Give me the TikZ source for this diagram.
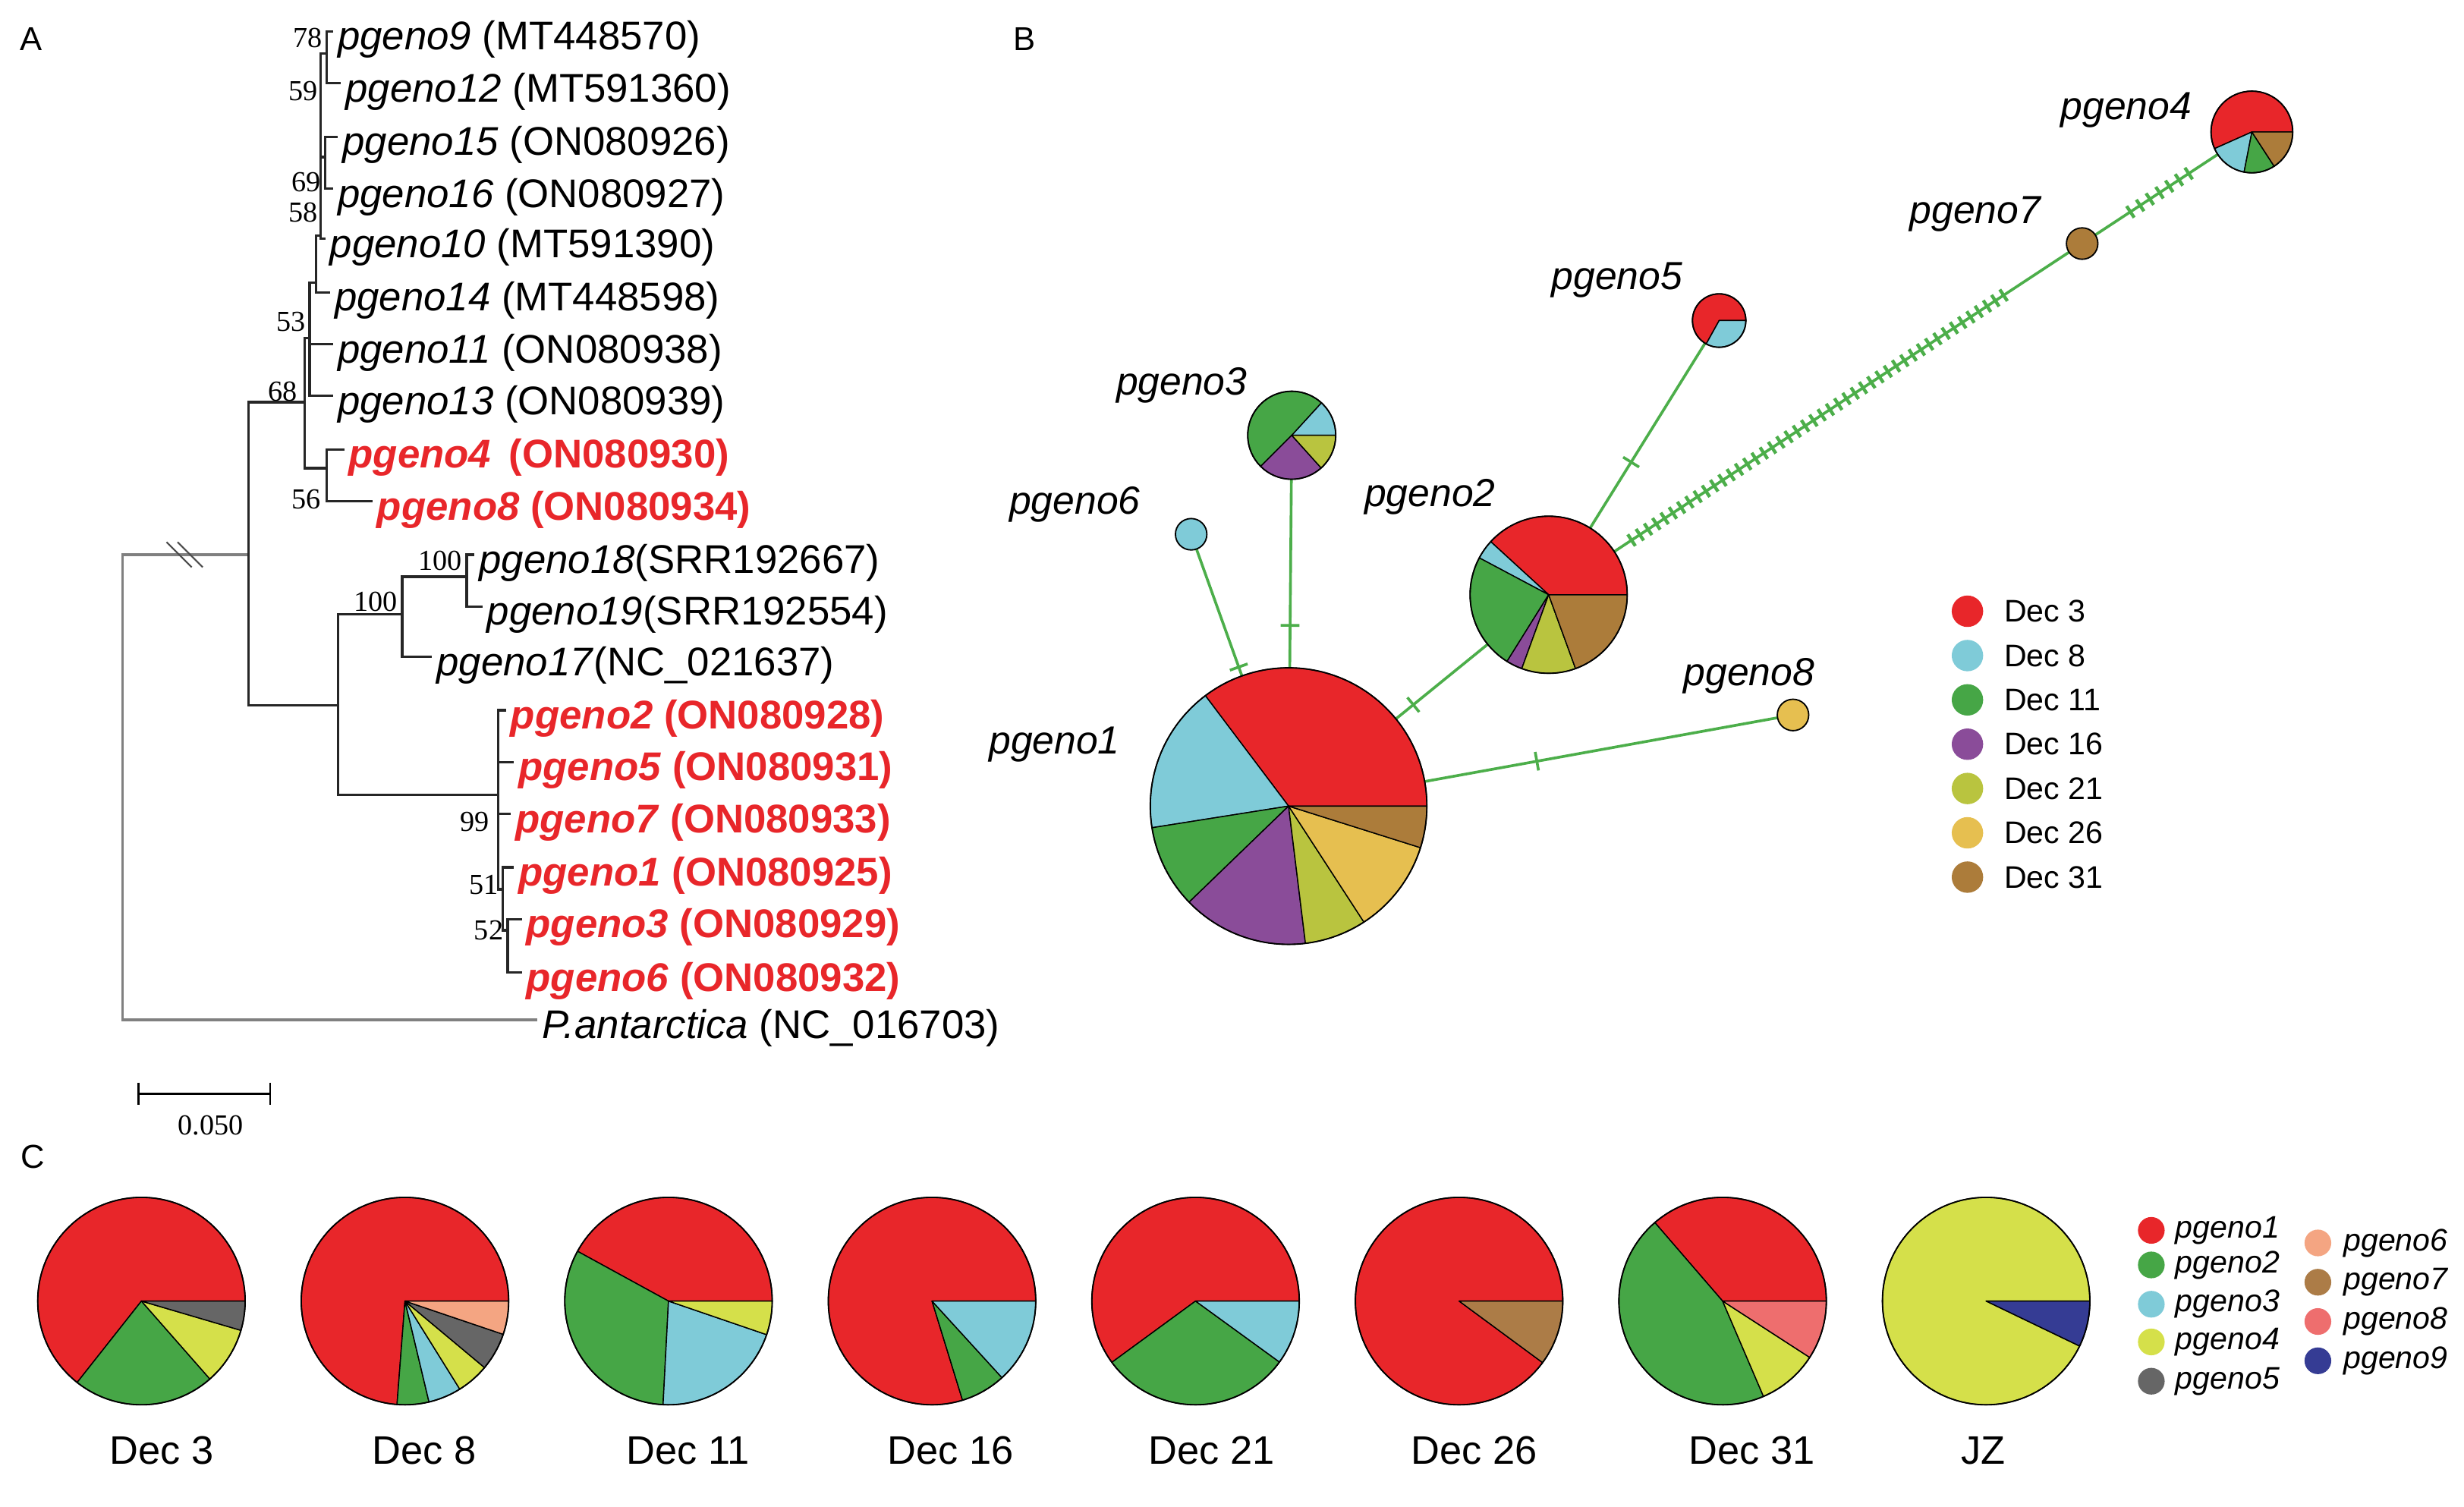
\documentclass[tikz,border=0pt]{standalone}
\usepackage{fontspec}
\setmainfont{Liberation Sans}
\newfontfamily\timesfont{Liberation Serif}
\usepackage{tikz}
\usetikzlibrary{calc}
\usetikzlibrary{positioning}
\usetikzlibrary{decorations.markings}

% sampling days
\definecolor{dthree}{HTML}{E8262A}
\definecolor{deight}{HTML}{7FCBD8}
\definecolor{deleven}{HTML}{46A646}
\definecolor{dsixteen}{HTML}{8A4C99}
\definecolor{dtwentyone}{HTML}{B9C43F}
\definecolor{dtwentysix}{HTML}{E6BF50}
\definecolor{dthirtyone}{HTML}{AC7C3A}
% genotypes
\definecolor{gone}{HTML}{E8262A}
\definecolor{gtwo}{HTML}{46A646}
\definecolor{gthree}{HTML}{7FCBD8}
\definecolor{gfour}{HTML}{D5E04A}
\definecolor{gfive}{HTML}{666666}
\definecolor{gsix}{HTML}{F4A582}
\definecolor{gseven}{HTML}{AC7C47}
\definecolor{geight}{HTML}{EE6E6E}
\definecolor{gnine}{HTML}{353C94}
\definecolor{pred}{HTML}{E8262A}
\definecolor{eg}{HTML}{4CAE4A}

% #1 node, #2 radius, #3 list from/to/colour
\newcommand{\piechart}[3]{%
  \foreach \a/\b/\c in {#3}
    \filldraw[fill=\c,draw=black,line width=0.4pt,line join=round]
      (#1.center) -- ++(-\a:#2) arc[start angle=-\a,end angle=-\b,radius=#2] -- cycle;
  \draw[line width=0.5pt] (#1.center) circle[radius=#2];}

\begin{document}
\begin{tikzpicture}[x=0.02cm,y=-0.02cm,
  tip/.style={anchor=west,inner xsep=1.5pt,inner ysep=0pt,text height=17pt,text depth=3.5pt,font=\fontsize{14.5}{16}\selectfont},
  redtip/.style={tip,text=pred,font=\fontsize{14.5}{16}\selectfont\bfseries},
  boot/.style={inner sep=0pt,font=\timesfont\fontsize{10.5}{12}\selectfont},
  branch/.style={draw=black!85,line width=0.9pt},
  outgroup/.style={draw=black!50,line width=0.9pt},
  hap/.style={circle,inner sep=0pt,outer sep=0pt},
  hlabel/.style={inner sep=0pt,font=\fontsize{14.2}{16}\selectfont\itshape},
  panel/.style={inner sep=0pt,font=\fontsize{12}{14}\selectfont},
  edge/.style={draw=eg,line width=1pt},
  ticks/.style={postaction={decorate,decoration={markings,mark=at position #1 with {\draw[eg,line width=1pt] (0,-3.4pt) -- (0,3.4pt);}}}},
  hatches/.style n args={3}{postaction={decorate,decoration={markings,mark=between positions #1 and #2 step #3 with {\draw[eg,line width=1.2pt] (0,-2.5pt) -- (0,2.5pt);}}}}]

\useasboundingbox (0,0) rectangle (1568,959);

% ---------- A: tree ----------
\node[panel] (lblA) at (20,25) {A};

\node[tip] (t9) at (212,20) {\textit{pgeno9} (MT448570)};
\node[tip] (t12) at (217,53) {\textit{pgeno12} (MT591360)};
\node[tip] (t15) at (215,87) {\textit{pgeno15} (ON080926)};
\node[tip] (t16) at (212,120) {\textit{pgeno16} (ON080927)};
\node[tip] (t10) at (207,152) {\textit{pgeno10} (MT591390)};
\node[tip] (t14) at (210,186) {\textit{pgeno14} (MT448598)};
\node[tip] (t11) at (212,219) {\textit{pgeno11} (ON080938)};
\node[tip] (t13) at (212,252) {\textit{pgeno13} (ON080939)};
\node[redtip] (t4) at (219,286) {\textit{pgeno4}\, (ON080930)};
\node[redtip] (t8) at (237,319) {\textit{pgeno8} (ON080934)};
\node[tip] (t18) at (302,353) {\textit{pgeno18}(SRR192667)};
\node[tip] (t19) at (307,386) {\textit{pgeno19}(SRR192554)};
\node[tip] (t17) at (275,418) {\textit{pgeno17}(NC\_021637)};
\node[redtip] (t2) at (322,452) {\textit{pgeno2} (ON080928)};
\node[redtip] (t5) at (327,485) {\textit{pgeno5} (ON080931)};
\node[redtip] (t7) at (325,518) {\textit{pgeno7} (ON080933)};
\node[redtip] (t1) at (327,552) {\textit{pgeno1} (ON080925)};
\node[redtip] (t3) at (332,585) {\textit{pgeno3} (ON080929)};
\node[redtip] (t6) at (332,619) {\textit{pgeno6} (ON080932)};
\node[tip] (pant) at (342,649) {\textit{P.antarctica} (NC\_016703)};

\coordinate (root) at (78,500);
\coordinate (nA) at (158,353);
\coordinate (n68) at (194,256);
\coordinate (n53) at (197,215);
\coordinate (n14) at (201,180);
\coordinate (n59) at (204,150);
\coordinate (n78) at (208,34);
\coordinate (n69) at (207,100);
\coordinate (n56) at (208,298);
\coordinate (nB) at (215,449);
\coordinate (n100a) at (256,391);
\coordinate (n100b) at (297,367);
\coordinate (n99) at (317,506);
\coordinate (n51) at (320,566);
\coordinate (n52) at (323,592);

\draw[outgroup] (root) |- (nA) (root) |- (pant);
\foreach \p/\c in {nA/n68,nA/nB,n68/n53,n68/n56,n53/n14,n53/t11,n53/t13,
    n14/n59,n14/t14,n59/n78,n59/n69,n59/t10,n78/t9,n78/t12,n69/t15,n69/t16,
    n56/t4,n56/t8,nB/n100a,nB/n99,n100a/n100b,n100a/t17,n100b/t18,n100b/t19,
    n99/t2,n99/t5,n99/t7,n99/n51,n51/t1,n51/n52,n52/t3,n52/t6}
  \draw[branch] (\p) |- (\c);

% break on the long branch
\draw[black!70,line width=0.6pt] (106,345) -- (122,361) (113,345) -- (129,361);

\node[boot] (b78) at (196,24) {78};
\node[boot] (b59) at (193,58) {59};
\node[boot] (b69) at (195,116) {69};
\node[boot] (b58) at (193,135) {58};
\node[boot] (b53) at (185,205) {53};
\node[boot] (b68) at (180,249) {68};
\node[boot] (b56) at (195,318) {56};
\node[boot] (b100b) at (280,357) {100};
\node[boot] (b100a) at (239,383) {100};
\node[boot] (b99) at (302,523) {99};
\node[boot] (b51) at (308,563) {51};
\node[boot] (b52) at (311,592) {52};

% scale bar
\coordinate (sbl) at (88,696);
\coordinate (sbr) at (172,696);
\draw[line width=0.9pt] (sbl) -- (sbr);
\draw[line width=0.7pt] ($(sbl)+(0,-7)$) -- ($(sbl)+(0,7)$) ($(sbr)+(0,-7)$) -- ($(sbr)+(0,7)$);
\node[boot] (sblab) at (134,716) {0.050};

% ---------- B: network ----------
\node[panel] (lblB) at (652,25) {B};

\node[hap,minimum size=3.52cm] (h1) at (820,513) {};
\node[hap,minimum size=2cm] (h2) at (985.5,378.5) {};
\node[hap,minimum size=1.12cm] (h3) at (822,277) {};
\node[hap,minimum size=1.04cm] (h4) at (1433,84) {};
\node[hap,minimum size=0.68cm] (h5) at (1094,204) {};
\node[hap,minimum size=0.4cm] (h6) at (758,340) {};
\node[hap,minimum size=0.4cm] (h7) at (1325,155) {};
\node[hap,minimum size=0.4cm] (h8) at (1141,455) {};

\draw[edge,ticks=0.93] (h6) -- (h1);
\draw[edge,ticks=0.775] (h3) -- (h1);
\draw[edge,ticks=0.19] (h1) -- (h2);
\draw[edge,ticks=0.357] (h2) -- (h5);
\draw[edge,hatches={0.038}{0.86}{0.126cm}] (h2) -- (h7);
\draw[edge,hatches={0.287}{0.77}{0.148cm}] (h7) -- (h4);
\draw[edge,ticks=0.318] (h1) -- (h8);

\piechart{h1}{88}{0/127/dthree,127/189/deight,189/224/deleven,224/277/dsixteen,277/303/dtwentyone,303/342.5/dtwentysix,342.5/360/dthirtyone}
\piechart{h2}{50}{0/137.5/dthree,137.5/152/deight,152/238/deleven,238/250/dsixteen,250/290/dtwentyone,290/360/dthirtyone}
\piechart{h3}{28}{0/47.6/deight,47.6/225/deleven,225/312/dsixteen,312/360/dtwentyone}
\piechart{h4}{26}{0/204/dthree,204/259/deight,259/303/deleven,303/360/dthirtyone}
\piechart{h5}{17}{0/241/dthree,241/360/deight}
\filldraw[fill=deight,line width=0.5pt] (h6.center) circle[radius=10];
\filldraw[fill=dthirtyone,line width=0.5pt] (h7.center) circle[radius=10];
\filldraw[fill=dtwentysix,line width=0.5pt] (h8.center) circle[radius=10];

\node[hlabel] (l1) at (671,474) {pgeno1};
\node[hlabel] (l2) at (910,316) {pgeno2};
\node[hlabel] (l3) at (752,245) {pgeno3};
\node[hlabel] (l4) at (1353,70) {pgeno4};
\node[hlabel] (l5) at (1029,178) {pgeno5};
\node[hlabel] (l6) at (684,321) {pgeno6};
\node[hlabel] (l7) at (1257,136) {pgeno7};
\node[hlabel] (l8) at (1113,430) {pgeno8};

\foreach \c/\t [count=\i from 0] in {dthree/Dec 3,deight/Dec 8,deleven/Dec 11,dsixteen/Dec 16,dtwentyone/Dec 21,dtwentysix/Dec 26,dthirtyone/Dec 31}{
  \fill[\c] (1252,{389+28.2*\i}) circle[radius=10];
  \node[anchor=west,inner sep=0pt,font=\fontsize{11.3}{13}\selectfont] (legB\i) at (1275,{389+28.2*\i}) {\t};
}

% ---------- C: genotype pies ----------
\node[panel] (lblC) at (21,736) {C};

\foreach \i in {0,...,7}
  \node[hap,minimum size=2.64cm] (c\i) at ({90+167.7*\i},828) {};

\piechart{c0}{66}{0/231.7/gone,231.7/311.3/gtwo,311.3/343.6/gfour,343.6/360/gfive}
\piechart{c1}{66}{0/265.6/gone,265.6/283.4/gtwo,283.4/301.9/gthree,301.9/320.1/gfour,320.1/341.3/gfive,341.3/360/gsix}
\piechart{c2}{66}{0/151.3/gone,151.3/267/gtwo,267/341.1/gthree,341.1/360/gfour}
\piechart{c3}{66}{0/287.1/gone,287.1/312.4/gtwo,312.4/360/gthree}
\piechart{c4}{66}{0/216.2/gone,216.2/324/gtwo,324/360/gthree}
\piechart{c5}{66}{0/323.6/gone,323.6/360/gseven}
\piechart{c6}{66}{0/130.8/gone,130.8/293.2/gtwo,293.2/327.1/gfour,327.1/360/geight}
\piechart{c7}{66}{0/334.3/gfour,334.3/360/gnine}

\foreach \x/\t [count=\i] in {103/Dec 3,270/Dec 8,438/Dec 11,605/Dec 16,771/Dec 21,938/Dec 26,1115/Dec 31,1262/JZ}
  \node[inner sep=0pt,font=\fontsize{14.4}{16}\selectfont] (cl\i) at (\x,923) {\t};

\foreach \c/\y [count=\i] in {gone/783,gtwo/805,gthree/830,gfour/854,gfive/879}{
  \fill[\c] (1369,\y) circle[radius=8.5];
  \node[anchor=west,inner sep=0pt,font=\fontsize{11.3}{13}\selectfont\itshape] (legC\i) at (1384,\y) {pgeno\i};
}
\foreach \c/\y [count=\i from 6] in {gsix/791,gseven/816,geight/841,gnine/866}{
  \fill[\c] (1475,\y) circle[radius=8.5];
  \node[anchor=west,inner sep=0pt,font=\fontsize{11.3}{13}\selectfont\itshape] (legC\i) at (1491,\y) {pgeno\i};
}

\end{tikzpicture}
\end{document}
